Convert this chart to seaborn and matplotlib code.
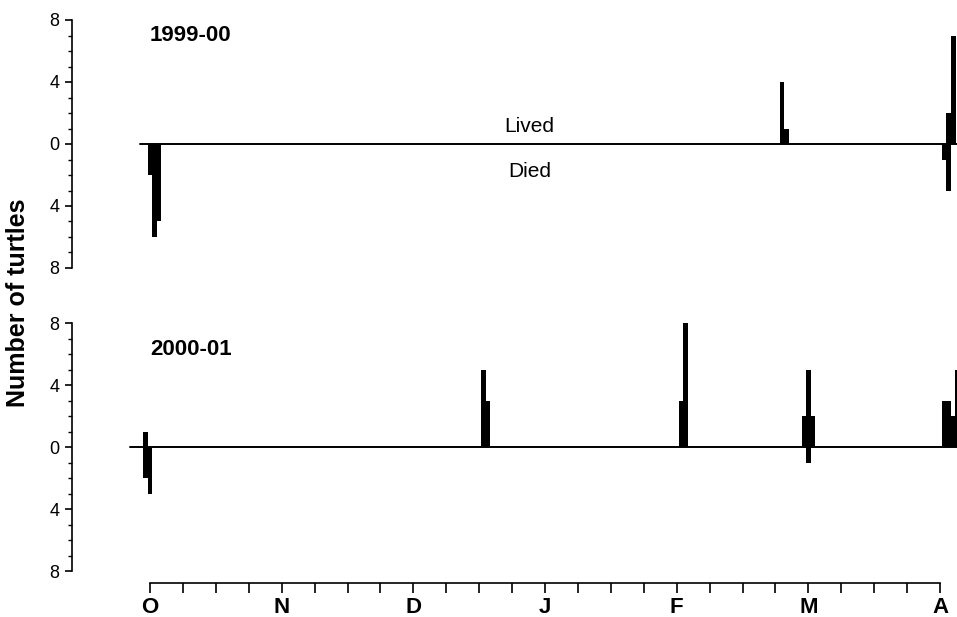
import numpy as np
import pandas as pd
import matplotlib
matplotlib.use("Agg")
import matplotlib.pyplot as plt
from matplotlib.ticker import MultipleLocator, FixedLocator
import seaborn as sns

# ---- data (days since 1 October; counts of turtles) ----
months = ["O", "N", "D", "J", "F", "M", "A"]
seasons = ["1999-00", "2000-01"]

top_lived_day = [144, 145, 182, 183]
top_lived_n = [4, 1, 2, 7]
top_died_day = [0, 1, 2, 181, 182]
top_died_n = [2, 6, 5, 1, 3]

bot_lived_day = [-1, 76, 77, 121, 122, 149, 150, 151, 181, 182, 183, 184]
bot_lived_n = [1, 5, 3, 3, 8, 2, 5, 2, 3, 3, 2, 5]
bot_died_day = [-1, 0, 150]
bot_died_n = [2, 3, 1]

sns.set_theme(style="ticks")
plt.rcParams["font.family"] = ["Liberation Sans", "DejaVu Sans"]
for k in ["text.color", "axes.labelcolor", "xtick.color", "ytick.color", "axes.edgecolor"]:
    plt.rcParams[k] = "black"

W, H = 957, 617
fig = plt.figure(figsize=(W / 100, H / 100), dpi=100)

px_per_day = (940 - 150) / 180.0
x0 = (72 - 150) / px_per_day
x1 = (957 - 150) / px_per_day
ppu = 15.5

def make_ax(top_px, bottom_px):
    return fig.add_axes([72 / W, 1 - bottom_px / H, (W - 72) / W, (bottom_px - top_px) / H])

axA = make_ax(20 - 0.3 * ppu, 268 + 0.3 * ppu)
axB = make_ax(323 - 0.3 * ppu, 571 + 0.77 * ppu)

panels = [
    (axA, top_lived_day, top_lived_n, top_died_day, top_died_n, (-8.3, 8.3), 140, 7.0),
    (axB, bot_lived_day, bot_lived_n, bot_died_day, bot_died_n, (-8.77, 8.3), 130, 6.3),
]

for i, (ax, ld, ln, dd, dn, ylim, base_px, ty) in enumerate(panels):
    lived = pd.DataFrame({"day": ld, "n": ln})
    died = pd.DataFrame({"day": dd, "n": [-v for v in dn]})
    for df in (lived, died):
        sns.barplot(data=df, x="day", y="n", native_scale=True, width=1.1,
                    color="black", saturation=1, errorbar=None, orient="x",
                    edgecolor="none", linewidth=0, ax=ax)
    ax.set_xlim(x0, x1)
    ax.set_ylim(*ylim)
    ax.axhline(0, xmin=(base_px - 72) / (W - 72), xmax=1, color="black", lw=1.4, zorder=3)
    ax.spines["top"].set_visible(False)
    ax.spines["right"].set_visible(False)
    ax.spines["left"].set_bounds(-8, 8)
    ax.spines["left"].set_linewidth(1.2)
    ax.yaxis.set_major_locator(FixedLocator([-8, -4, 0, 4, 8]))
    ax.set_yticklabels(["8", "4", "0", "4", "8"])
    ax.yaxis.set_minor_locator(MultipleLocator(1))
    ax.tick_params(axis="y", which="major", direction="out", length=5, width=1.2,
                   labelsize=13, pad=4, colors="black")
    ax.tick_params(axis="y", which="minor", direction="out", length=3, width=1.0)
    ax.set_xlabel("")
    ax.set_ylabel("")
    ax.text(0, ty, seasons[i], fontsize=16, fontweight="bold", ha="left", va="center")
    ax.set_facecolor("none")

axA.spines["bottom"].set_visible(False)
axA.tick_params(axis="x", which="both", bottom=False, labelbottom=False)

axA.text(86.5, 1.1, "Lived", fontsize=15, ha="center", va="center")
axA.text(86.5, -1.75, "Died", fontsize=15, ha="center", va="center")

axB.spines["bottom"].set_bounds(0, 180)
axB.spines["bottom"].set_linewidth(1.2)
axB.xaxis.set_major_locator(FixedLocator([30 * k for k in range(len(months))]))
axB.set_xticklabels(months, fontsize=16, fontweight="bold")
axB.xaxis.set_minor_locator(FixedLocator([7.5 * k for k in range(25)]))
axB.tick_params(axis="x", which="both", direction="out", length=7, width=1.2, pad=3, colors="black")

fig.text(18 / W, 1 - 303 / H, "Number of turtles", rotation=90, fontsize=18,
         fontweight="bold", ha="center", va="center")

fig.savefig("out.png", dpi=100)
